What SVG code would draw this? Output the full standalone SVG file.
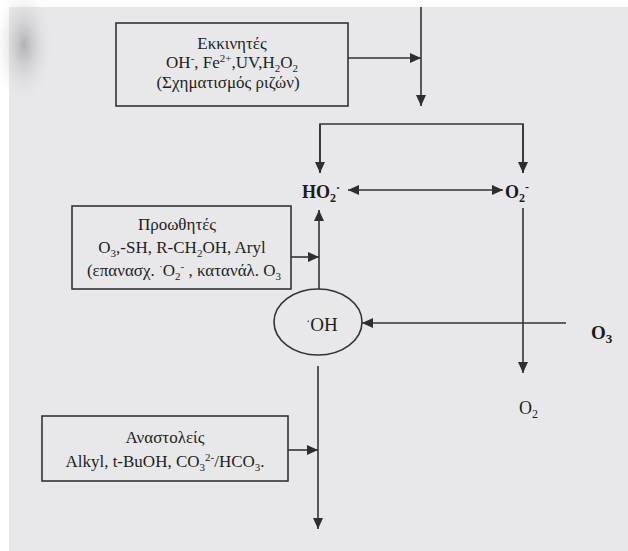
<svg xmlns="http://www.w3.org/2000/svg" width="628" height="551" viewBox="0 0 628 551">
<defs>
<marker id="ah" markerUnits="userSpaceOnUse" markerWidth="12" markerHeight="10" refX="11" refY="5" orient="auto-start-reverse">
<path d="M0,0 L11,5 L0,10 Z" fill="#2e2e30"/>
</marker>
<radialGradient id="smudge" cx="0.5" cy="0.5" r="0.5">
<stop offset="0" stop-color="#9a9a9e" stop-opacity="0.7"/>
<stop offset="1" stop-color="#e8e8ea" stop-opacity="0"/>
</radialGradient>
<style>
.box{fill:none;stroke:#333335;stroke-width:1.6}
.ln{fill:none;stroke:#333335;stroke-width:1.6}
.arr{marker-end:url(#ah)}
.t{font-family:"Liberation Serif","Times New Roman",serif;font-size:17px;fill:#1e1e20;text-anchor:middle}
.b{font-family:"Liberation Serif","Times New Roman",serif;font-weight:bold;fill:#1a1a1c}
.r{font-family:"Liberation Serif","Times New Roman",serif;fill:#1e1e20}
.s{font-size:11px}
</style>
</defs>
<rect width="628" height="551" fill="#ffffff"/>
<rect x="9" y="7" width="619" height="544" fill="#e8e8ea"/>
<ellipse cx="24" cy="45" rx="30" ry="60" fill="url(#smudge)"/>

<g id="connectors">
<line class="ln" x1="421" y1="7" x2="421" y2="106" marker-end="url(#ah)"/>
<line class="ln arr" x1="348" y1="58" x2="421" y2="58"/>
<polyline class="ln" points="320,173 320,124 523,124 523,173"/>
<line class="ln arr" x1="320" y1="124" x2="320" y2="173"/>
<line class="ln arr" x1="523" y1="124" x2="523" y2="173"/>
<line class="ln" x1="348" y1="190" x2="503" y2="190" marker-start="url(#ah)" marker-end="url(#ah)"/>
<line class="ln arr" x1="319" y1="289" x2="319" y2="210"/>
<line class="ln arr" x1="291" y1="257" x2="319" y2="257"/>
<line class="ln arr" x1="566" y1="323" x2="362" y2="323"/>
<line class="ln arr" x1="523" y1="208" x2="523" y2="373"/>
<line class="ln arr" x1="318" y1="366" x2="318" y2="529"/>
<line class="ln arr" x1="288" y1="450" x2="318" y2="450"/>
</g>

<g id="initiators">
<rect class="box" x="116" y="23" width="232" height="83"/>
<text class="t" x="232" y="49">Εκκινητές</text>
<text class="t" x="232" y="68">OH<tspan class="s" dy="-6">-</tspan><tspan dy="6">, Fe</tspan><tspan class="s" dy="-6">2+</tspan><tspan dy="6">,UV,H</tspan><tspan class="s" dy="4">2</tspan><tspan dy="-4">O</tspan><tspan class="s" dy="4">2</tspan></text>
<text class="t" x="228" y="88">(Σχηματισμός ριζών)</text>
</g>

<g id="promoters">
<rect class="box" x="72" y="206" width="219" height="83"/>
<text class="t" x="177" y="230">Προωθητές</text>
<text class="t" x="182" y="253">O<tspan class="s" dy="4">3</tspan><tspan dy="-4">,-SH, R-CH</tspan><tspan class="s" dy="4">2</tspan><tspan dy="-4">OH, Aryl</tspan></text>
<text class="t" x="184" y="276">(επανασχ. <tspan class="s" dy="-6">·</tspan><tspan dy="6">O</tspan><tspan class="s" dy="4">2</tspan><tspan class="s" dy="-10">-</tspan><tspan dy="6"> , κατανάλ. O</tspan><tspan class="s" dy="4">3</tspan></text>
</g>

<g id="inhibitors">
<rect class="box" x="42" y="416" width="246" height="65"/>
<text class="t" x="165" y="443">Αναστολείς</text>
<text class="t" x="165" y="467">Alkyl, t-BuOH, CO<tspan class="s" dy="4">3</tspan><tspan class="s" dy="-10">2-</tspan><tspan dy="6">/HCO</tspan><tspan class="s" dy="4">3</tspan><tspan dy="-4">.</tspan></text>
</g>

<g id="ho2">
<text class="b" x="302" y="198" font-size="18">HO<tspan font-size="12" dy="4">2</tspan><tspan font-size="12" dy="-10">·</tspan></text>
</g>

<g id="o2minus">
<text class="b" x="505" y="198" font-size="18">O<tspan font-size="12" dy="4">2</tspan><tspan font-size="12" dy="-11">-</tspan></text>
</g>

<g id="oh">
<ellipse cx="318" cy="322" rx="44" ry="33" fill="none" stroke="#333335" stroke-width="1.6"/>
<text class="r" x="322" y="331" font-size="19" text-anchor="middle"><tspan font-size="12" dy="-6">·</tspan><tspan dy="6">OH</tspan></text>
</g>

<g id="o3">
<text class="b" x="591" y="339" font-size="19">O<tspan font-size="13" dy="4">3</tspan></text>
</g>

<g id="o2">
<text class="r" x="519" y="414" font-size="18">O<tspan font-size="12" dy="4">2</tspan></text>
</g>
</svg>
